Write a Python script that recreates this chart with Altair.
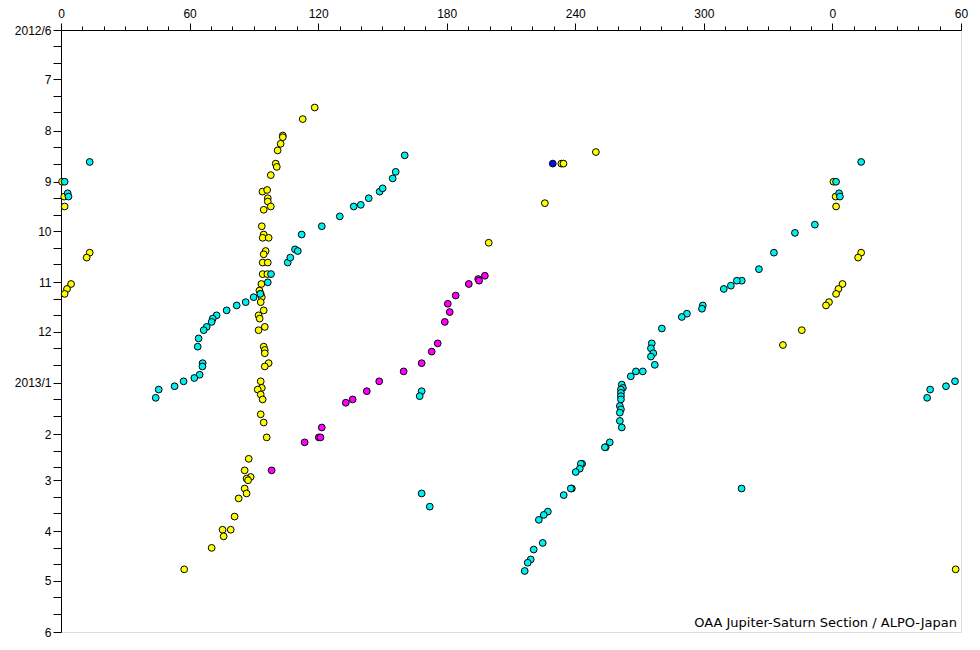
import altair as alt
import pandas as pd

# ---- data (longitude in degrees, observation date) ----
yellow_lon = [0.5, 1.5, 1.7, 13.4, 12.0, 4.7, 2.8, 1.7,
              118.4, 112.8, 103.5, 103.5, 102.5, 101.1, 100.2, 100.7, 97.9, 94.0, 96.2, 96.5,
              96.5, 97.9, 94.6, 93.7, 94.6, 94.1, 96.9, 95.5, 94.6, 94.1, 96.5, 94.1, 96.3,
              93.5, 92.6, 93.2, 93.7, 93.2, 94.6, 92.2, 92.7, 95.1, 92.2, 94.6, 95.1, 95.1,
              96.9, 95.1, 93.2, 93.7, 91.8, 93.2, 94.1, 93.2, 94.6, 96.0, 87.6, 85.7, 88.5,
              86.6, 87.3, 85.7, 86.6, 82.9, 81.0, 75.4, 79.2, 75.9, 70.3, 57.5,
              199.6, 225.8, 233.5, 234.5, 249.6,
              358.4, 357.0, 345.7, 336.9]
yellow_date = ["2012-09-01", "2012-09-10", "2012-09-16", "2012-10-14", "2012-10-17", "2012-11-02", "2012-11-05", "2012-11-08",
               "2012-07-18", "2012-07-25", "2012-08-04", "2012-08-05", "2012-08-09", "2012-08-13", "2012-08-21", "2012-08-23", "2012-08-28", "2012-09-07", "2012-09-06", "2012-09-11",
               "2012-09-13", "2012-09-16", "2012-09-18", "2012-09-28", "2012-10-03", "2012-10-05", "2012-10-05", "2012-10-13", "2012-10-15", "2012-10-20", "2012-10-20", "2012-10-27", "2012-10-27",
               "2012-11-02", "2012-11-06", "2012-11-08", "2012-11-10", "2012-11-13", "2012-11-18", "2012-11-21", "2012-11-23", "2012-11-28", "2012-11-30", "2012-12-10", "2012-12-12", "2012-12-14",
               "2012-12-20", "2012-12-22", "2012-12-31", "2013-01-04", "2013-01-05", "2013-01-08", "2013-01-11", "2013-01-20", "2013-01-25", "2013-02-03", "2013-02-16", "2013-02-23", "2013-02-27",
               "2013-02-28", "2013-03-01", "2013-03-06", "2013-03-09", "2013-03-12", "2013-03-23", "2013-03-31", "2013-03-31", "2013-04-04", "2013-04-11", "2013-04-24",
               "2012-10-08", "2012-09-14", "2012-08-21", "2012-08-21", "2012-08-14",
               "2012-11-13", "2012-11-15", "2012-11-30", "2012-12-09"]

cyan_lon = [13.4, 1.7, 3.1, 3.5,
            98.0, 96.5, 93.0, 89.9, 86.2, 82.0, 77.3, 72.6, 70.8, 70.3, 68.0, 66.6, 64.2, 63.8,
            66.1, 66.0, 64.7, 62.2, 57.2, 53.0, 45.6, 44.2,
            105.8, 107.0, 109.2, 110.5, 112.3, 121.7, 130.1, 136.6, 139.9, 143.6, 148.7, 150.1,
            154.8, 156.2, 160.4,
            168.3, 167.4, 168.3, 172.1, 317.6,
            351.8, 342.5, 332.7, 325.7, 317.7, 315.4, 312.6, 309.3, 299.5, 299.1, 292.1, 289.7,
            280.4, 275.7, 275.3, 276.4, 275.3, 277.1, 271.5, 268.3, 265.9, 261.7, 262.2, 261.3,
            261.3, 261.3, 261.3, 260.8, 261.3, 260.8, 260.8, 261.7, 256.1, 254.2, 253.8, 243.2,
            242.6, 242.1, 240.2, 238.4, 237.9, 234.6, 227.2, 225.3, 223.0, 224.8, 220.6, 219.2,
            217.8, 216.4]
cyan_date = ["2012-08-20", "2012-09-01", "2012-09-08", "2012-09-10",
             "2012-10-27", "2012-11-01", "2012-11-08", "2012-11-10", "2012-11-13", "2012-11-15", "2012-11-18", "2012-11-21", "2012-11-23", "2012-11-25", "2012-11-28", "2012-11-30", "2012-12-05", "2012-12-10",
             "2012-12-20", "2012-12-22", "2012-12-27", "2012-12-29", "2012-12-31", "2013-01-03", "2013-01-05", "2013-01-10",
             "2012-10-20", "2012-10-17", "2012-10-12", "2012-10-13", "2012-10-03", "2012-09-28", "2012-09-22", "2012-09-16", "2012-09-15", "2012-09-11", "2012-09-07", "2012-09-05",
             "2012-08-30", "2012-08-26", "2012-08-16",
             "2013-01-06", "2013-01-09", "2013-03-09", "2013-03-17", "2013-03-06",
             "2012-09-27", "2012-10-02", "2012-10-14", "2012-10-24", "2012-10-31", "2012-10-31", "2012-11-03", "2012-11-05", "2012-11-15", "2012-11-17", "2012-11-20", "2012-11-22",
             "2012-11-29", "2012-12-08", "2012-12-11", "2012-12-14", "2012-12-16", "2012-12-21", "2012-12-25", "2012-12-25", "2012-12-28", "2013-01-02", "2013-01-04", "2013-01-05",
             "2013-01-07", "2013-01-09", "2013-01-11", "2013-01-15", "2013-01-17", "2013-01-19", "2013-01-24", "2013-01-28", "2013-02-06", "2013-02-09", "2013-02-09", "2013-02-19",
             "2013-02-19", "2013-02-22", "2013-02-24", "2013-03-06", "2013-03-06", "2013-03-10", "2013-03-20", "2013-03-22", "2013-03-25", "2013-04-08", "2013-04-12", "2013-04-18",
             "2013-04-20", "2013-04-25"]

magenta_lon = [197.8, 194.7, 195.1, 190.3, 184.2, 180.5, 181.4, 179.1, 175.8, 173.0, 168.3,
               159.9, 148.5, 142.7, 136.1, 132.9, 121.7, 120.3, 121.1, 113.7, 98.3]
magenta_date = ["2012-10-28", "2012-10-30", "2012-10-31", "2012-11-02", "2012-11-09", "2012-11-14", "2012-11-19", "2012-11-25", "2012-12-08", "2012-12-13", "2012-12-20",
                "2012-12-25", "2012-12-31", "2013-01-06", "2013-01-11", "2013-01-13", "2013-01-28", "2013-02-03", "2013-02-03", "2013-02-06", "2013-02-23"]

blue_lon = [229.5]
blue_date = ["2012-08-21"]

series_names = ["yellow", "cyan", "magenta", "blue"]
series_colors = ["#FFFF00", "#00F0F0", "#FF00FF", "#0010E8"]

x_tick_values = list(range(0, 421, 10))
credit = "OAA Jupiter-Saturn Section / ALPO-Japan"

# ---- table ----
rows = []
for name, lons, dates in [("yellow", yellow_lon, yellow_date), ("cyan", cyan_lon, cyan_date),
                          ("magenta", magenta_lon, magenta_date), ("blue", blue_lon, blue_date)]:
    for lo, d in zip(lons, dates):
        rows.append({"lon": lo, "date": d, "series": name})
df = pd.DataFrame(rows)

y_tick_values = []
for yr, mo in [(2012, m) for m in range(6, 13)] + [(2013, m) for m in range(1, 6)]:
    for dd in (1, 11, 21):
        y_tick_values.append(alt.DateTime(year=yr, month=mo, date=dd, utc=True))
y_tick_values.append(alt.DateTime(year=2013, month=6, date=1, utc=True))

W, H = 900, 602

x_scale = alt.Scale(domain=[0, 420], nice=False, zero=False)
y_scale = alt.Scale(type="utc", reverse=True, nice=False,
                    domain=[alt.DateTime(year=2012, month=6, date=1, utc=True),
                            alt.DateTime(year=2013, month=6, date=1, utc=True)])

x_axis = alt.Axis(orient="top", values=x_tick_values, title=None, grid=False,
                  labelExpr="datum.value % 60 === 0 ? '' + (datum.value % 360) : ''",
                  tickSize={"condition": {"test": "datum.value % 60 === 0", "value": 7}, "value": 4},
                  labelFlush=False, labelOverlap=False, labelPadding=3,
                  labelFont="Liberation Sans", labelFontSize=12, labelColor="black",
                  domainColor="black", tickColor="black")
y_axis = alt.Axis(values=y_tick_values, title=None, grid=False,
                  labelExpr="utcdate(datum.value) == 1 ? ((utcmonth(datum.value) == 0 || (utcyear(datum.value) == 2012 && utcmonth(datum.value) == 5)) ? (utcyear(datum.value) + '/' + (utcmonth(datum.value) + 1)) : ('' + (utcmonth(datum.value) + 1))) : ''",
                  tickSize=8, labelFlush=False, labelOverlap=False, labelPadding=2,
                  labelFont="Liberation Sans", labelFontSize=12, labelColor="black",
                  domainColor="black", tickColor="black")

fill_scale = alt.Scale(domain=series_names, range=series_colors)

base = alt.Chart(df)

pts = base.mark_point(shape="circle", filled=True, size=46, stroke="black",
                      strokeWidth=1, opacity=1).encode(
    x=alt.X("lon:Q", scale=x_scale, axis=x_axis),
    y=alt.Y("date:T", scale=y_scale, axis=y_axis),
    fill=alt.Fill("series:N", scale=fill_scale, legend=None),
)

wrapped = base.transform_filter("datum.lon <= 60").transform_calculate(
    lon2="datum.lon + 360"
).mark_point(shape="circle", filled=True, size=46, stroke="black",
             strokeWidth=1, opacity=1).encode(
    x=alt.X("lon2:Q", scale=x_scale, axis=x_axis),
    y=alt.Y("date:T", scale=y_scale, axis=y_axis),
    fill=alt.Fill("series:N", scale=fill_scale, legend=None),
)

txt = alt.Chart(pd.DataFrame({"t": [credit]})).mark_text(
    align="right", baseline="bottom", font="DejaVu Sans", fontSize=13, color="black"
).encode(x=alt.value(W - 4), y=alt.value(H - 2), text="t:N")

chart = alt.layer(pts, wrapped, txt).properties(
    width=W, height=H,
    autosize=alt.AutoSizeParams(type="none"),
    padding={"left": 53, "top": 22, "right": 10, "bottom": 10},
).configure_view(stroke="black", strokeWidth=1).configure(background="white")

chart.save("out.html", embed_options={"renderer": "svg", "actions": False})
